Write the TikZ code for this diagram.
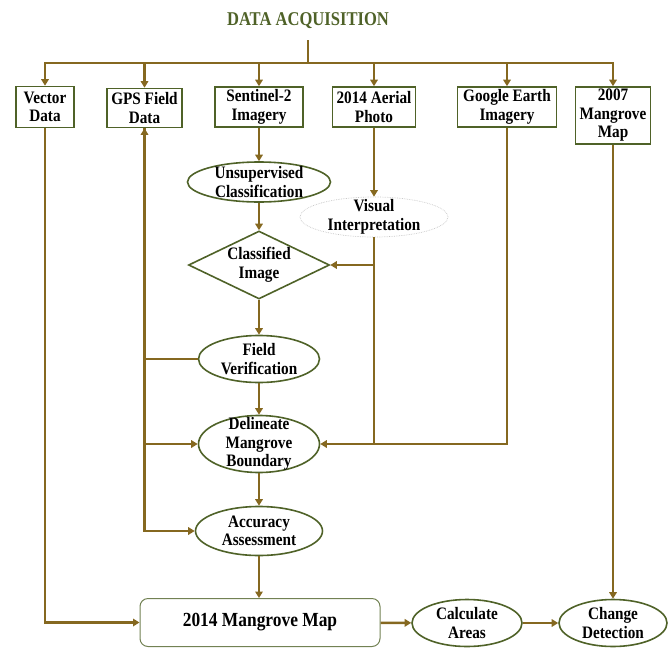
\documentclass[tikz,border=0pt]{standalone}
\usepackage{fontspec}
\setmainfont{Liberation Serif}[FakeStretch=0.87]
\newfontfamily\titlefont{Liberation Serif}[FakeStretch=0.85]
\usetikzlibrary{shapes,arrows.meta,positioning}
\definecolor{olivegreen}{RGB}{79,98,40}
\definecolor{flowbrown}{RGB}{133,104,32}

\begin{document}
\begin{tikzpicture}[x=1pt,y=-1pt,
    every node/.style={font=\fontsize{17.5}{18.5}\selectfont\bfseries, align=center},
    box/.style={draw=olivegreen, line width=1.6pt, rectangle, inner sep=0pt},
    oval/.style={draw=olivegreen, line width=1.6pt, ellipse, inner sep=-14pt},
    flow/.style={draw=flowbrown, line width=2.6pt},
    arr/.style={flow, -{Triangle[length=6.5pt,width=7.5pt]}}]
    \useasboundingbox (0,0) rectangle (669,648);

    % sources
    \node[font=\titlefont\fontsize{19.5}{21}\selectfont\bfseries, text=olivegreen] (title) at (308,21) {DATA ACQUISITION};
    \coordinate (stem) at (308,40);
    \coordinate (bus) at (308,63);
    \node[box, minimum width=58pt, minimum height=41pt] (vec) at (45,107) {Vector\\Data};
    \node[box, minimum width=75pt, minimum height=39pt] (gps) at (144.5,108) {GPS Field\\Data};
    \node[box, minimum width=88pt, minimum height=40pt] (sen) at (259,107) {Sentinel-2\\Imagery};
    \node[box, minimum width=83pt, minimum height=40pt] (aer) at (374,107) {2014 Aerial\\Photo};
    \node[box, minimum width=99pt, minimum height=40pt] (ge) at (507,107) {Google Earth\\Imagery};
    \node[box, minimum width=75pt, minimum height=57pt] (old) at (613,115.5) {2007\\Mangrove\\Map};

    % processing
    \node[oval, minimum width=143pt, minimum height=40pt] (uns) at (259,182) {Unsupervised\\Classification};
    \node[oval, draw=gray!45, line width=0.7pt, densely dotted, minimum width=148pt, minimum height=40pt] (vis) at (374,217) {Visual\\Interpretation};
    \node[draw=olivegreen, line width=1.6pt, diamond, inner sep=-16pt, minimum width=141pt, minimum height=68pt] (cls) at (259,265) {Classified\\Image};
    \node[oval, minimum width=121pt, minimum height=47pt] (fv) at (259,359) {Field\\Verification};
    \node[oval, minimum width=121pt, minimum height=57pt] (del) at (259,444) {Delineate\\Mangrove\\Boundary};
    \node[oval, minimum width=127pt, minimum height=49pt] (acc) at (259,531) {Accuracy\\Assessment};

    % outputs
    \node[box, draw=olivegreen!80, rounded corners=8pt, line width=1pt, minimum width=240pt, minimum height=48pt, font=\fontsize{20}{21}\selectfont\bfseries] (map) at (260,622.5) {2014 Mangrove Map};
    \node[oval, minimum width=110pt, minimum height=47pt] (calc) at (467,623) {Calculate\\Areas};
    \node[oval, minimum width=108pt, minimum height=47pt] (chg) at (613,623) {Change\\Detection};

    \draw[flow] (stem) -- (bus);
    \draw[arr] (bus) -| (vec.north);
    \draw[arr] (bus) -| (old.north);
    \foreach \n in {gps,sen,aer,ge}
        \draw[arr] (\n.north |- bus) -- (\n.north);

    \draw[arr] (sen) -- (uns);
    \draw[arr] (uns) -- (cls);
    \draw[arr] (cls) -- (fv);
    \draw[arr] (fv) -- (del);
    \draw[arr] (del) -- (acc);
    \draw[arr] (acc) -- (acc |- map.north);
    \draw[arr] (map) -- (calc);
    \draw[arr] (calc) -- (chg);
    \draw[arr] (old) -- (old |- chg.north);

    \draw[arr] (aer) -- (vis);
    \draw[flow] (vis) -- (vis |- del.east);
    \draw[arr] (vis |- cls.east) -- (cls.east);
    \draw[arr] (ge) |- (del.east);

    \draw[arr] (vec) |- (map.west);
    \draw[arr] (gps |- fv.west) -- (gps);
    \draw[arr] (gps) |- (acc.west);
    \draw[flow] (fv.west) -- (gps |- fv.west);
    \draw[arr] (gps |- del.west) -- (del.west);
\end{tikzpicture}
\end{document}
